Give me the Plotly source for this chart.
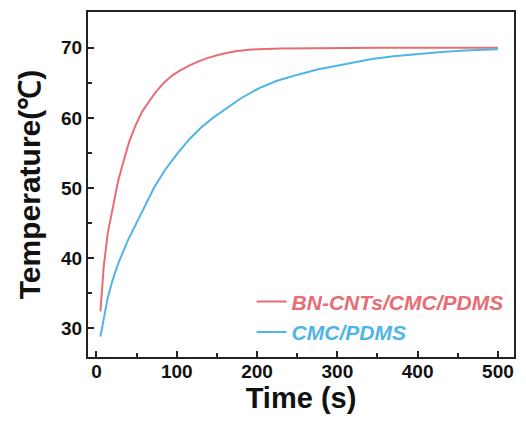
import plotly.graph_objects as go

# Heating curves: surface temperature vs. time
time_bn = [5, 9, 14, 18, 23, 27, 33, 41, 49, 57, 66, 74, 84, 95, 105, 116, 128,
           140, 156, 173, 190, 202, 230, 260, 300, 350, 400, 450, 500]
temp_bn = [32.4, 38.7, 43.5, 45.8, 48.8, 51.0, 53.5, 56.7, 59.0, 60.9, 62.4, 63.7,
           65.0, 66.1, 66.8, 67.5, 68.1, 68.6, 69.1, 69.5, 69.7, 69.8, 69.9, 69.95,
           70.0, 70.0, 70.0, 70.0, 70.0]

time_cmc = [5, 10, 14, 20, 27, 39, 50, 60, 72, 85, 100, 116, 130, 145, 161, 180,
            202, 225, 252, 275, 293, 320, 343, 370, 396, 430, 458, 480, 500]
temp_cmc = [28.8, 31.8, 34.3, 36.8, 39.2, 42.5, 45.0, 47.4, 50.1, 52.5, 54.8, 57.0,
            58.6, 60.0, 61.3, 62.8, 64.2, 65.3, 66.2, 66.9, 67.3, 67.9, 68.4, 68.8,
            69.1, 69.4, 69.6, 69.7, 69.8]

series_names = ["BN-CNTs/CMC/PDMS", "CMC/PDMS"]
red = "#E66D74"
blue = "#4FB5E6"

font_family = "Arial, Liberation Sans, sans-serif"

fig = go.Figure()
fig.add_trace(go.Scatter(
    x=time_bn, y=temp_bn, mode="lines",
    line=dict(color=red, width=2),
    name=f"<b><i><span style='color:{red}'>{series_names[0]}</span></i></b>",
))
fig.add_trace(go.Scatter(
    x=time_cmc, y=temp_cmc, mode="lines",
    line=dict(color=blue, width=2),
    name=f"<b><i><span style='color:{blue}'>{series_names[1]}</span></i></b>",
))

axis_common = dict(
    showline=True, linecolor="#222", linewidth=2, mirror=True,
    ticks="inside", ticklen=6, tickwidth=2, tickcolor="#222",
    showgrid=False, zeroline=False,
    tickfont=dict(family=font_family, size=19, color="#111", weight="bold"),
)

fig.update_xaxes(
    **axis_common,
    range=[-10.5, 520], tickvals=[0, 100, 200, 300, 400, 500],
    ticklabelstandoff=-4,
    minor=dict(tickvals=[50, 150, 250, 350, 450], ticks="inside", ticklen=4,
               tickwidth=2, tickcolor="#222"),
    title=dict(text="<b>Time (s)</b>", standoff=4,
               font=dict(family=font_family, size=29, color="#111")),
)
fig.update_yaxes(
    **axis_common,
    range=[25.9, 75.1], tickvals=[30, 40, 50, 60, 70],
    minor=dict(tickvals=[35, 45, 55, 65, 75], ticks="inside", ticklen=4,
               tickwidth=2, tickcolor="#222"),
    title=dict(text="<b>Temperature(℃)</b>", standoff=12,
               font=dict(family=font_family, size=30, color="#111")),
)

fig.update_layout(
    width=526, height=428,
    margin=dict(l=88, r=10, t=10, b=71),
    plot_bgcolor="white", paper_bgcolor="white",
    showlegend=True,
    legend=dict(
        x=0.384, y=0.219, xanchor="left", yanchor="top",
        bgcolor="rgba(0,0,0,0)", borderwidth=0,
        font=dict(family=font_family, size=21),
        tracegroupgap=0, itemwidth=30,
    ),
)

fig.write_html("out.html")
